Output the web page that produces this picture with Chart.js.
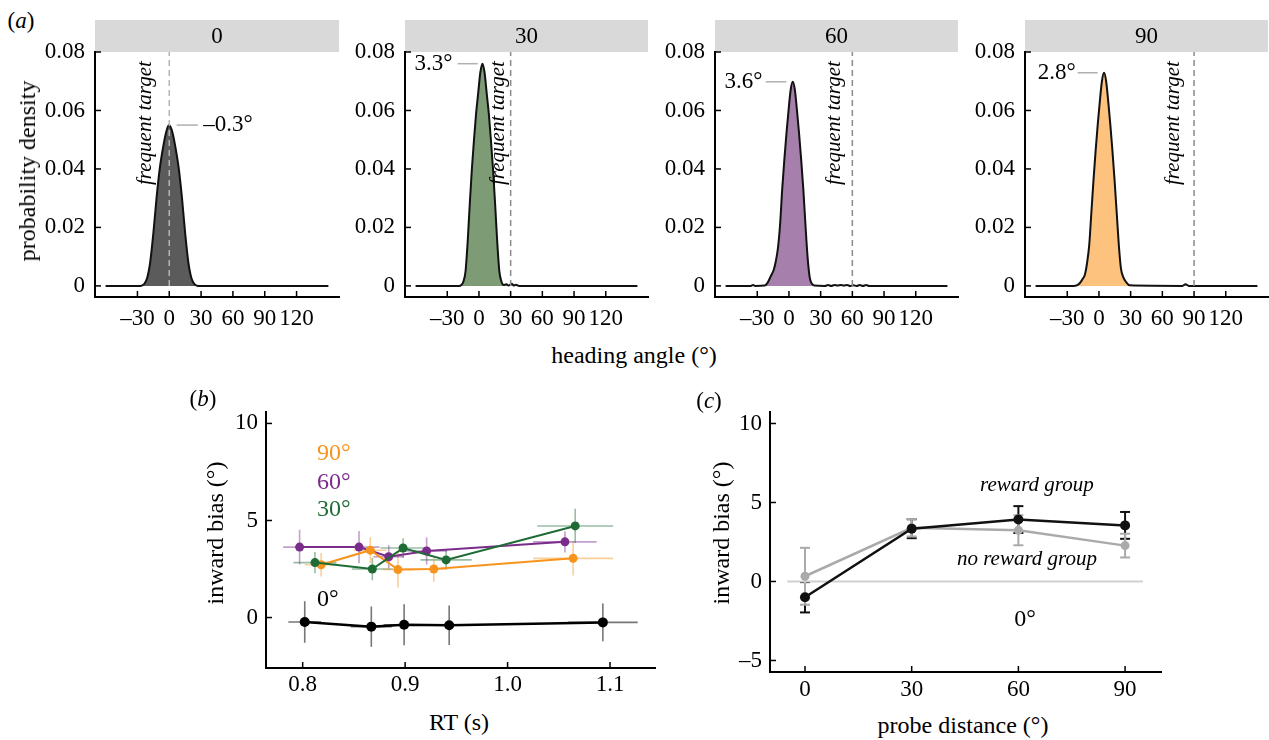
<!DOCTYPE html>
<html>
<head>
<meta charset="utf-8">
<script src="https://cdn.jsdelivr.net/npm/chart.js@4.4.0/dist/chart.umd.min.js"></script>
<style>
  body { margin: 0; background: #fff; width: 1269px; height: 740px; overflow: hidden; position: relative; font-family: 'Liberation Serif', 'Times New Roman', serif; }
  canvas { position: absolute; }
  .lbl { position: absolute; white-space: nowrap; line-height: 1; font-size: 24px; color: #000; transform: translate(-50%, -50%); }
  .rot { transform: translate(-50%, -50%) rotate(-90deg); }
</style>
</head>
<body>
<canvas id="a0"></canvas>
<canvas id="a30"></canvas>
<canvas id="a60"></canvas>
<canvas id="a90"></canvas>
<canvas id="b"></canvas>
<canvas id="c"></canvas>

<div class="lbl" style="left:21px;top:20px;font-size:23px">(<i>a</i>)</div>
<div class="lbl rot" style="left:27px;top:171px">probability density</div>
<div class="lbl" style="left:634px;top:355px">heading angle (°)</div>
<div class="lbl" style="left:203px;top:398px;font-size:23px">(<i>b</i>)</div>
<div class="lbl rot" style="left:215px;top:533px">inward bias (°)</div>
<div class="lbl" style="left:459px;top:722px">RT (s)</div>
<div class="lbl" style="left:709px;top:400px;font-size:23px">(<i>c</i>)</div>
<div class="lbl rot" style="left:721px;top:533px">inward bias (°)</div>
<div class="lbl" style="left:963px;top:725px">probe distance (°)</div>

<script>
const FONT = "'Liberation Serif', 'Times New Roman', serif";

// ---- (a) heading angle densities, one per probe distance
const probes = [0, 30, 60, 90];
const angleTicks = [-30, 0, 30, 60, 90, 120];
const densityTicks = [0, 0.02, 0.04, 0.06, 0.08];

const angle0 = [-60, -27, -24, -21, -18, -15, -12, -9, -6, -3, -0.3, 3, 6, 9, 12, 15, 18, 21, 24, 27, 150];
const dens0  = [0, 0, 0.0005, 0.0025, 0.008, 0.018, 0.03, 0.04, 0.047, 0.0525, 0.055, 0.0525, 0.047, 0.04, 0.03, 0.018, 0.008, 0.0025, 0.0005, 0, 0];

const angle30 = [-60, -19, -16.7, -14.7, -12.7, -10.7, -8.7, -6.7, -4.7, -2.7, -0.7, 1.3, 3.3, 5.3, 7.3, 9.3, 11.3, 13.3, 15.3, 17.3, 19.3, 21.3, 23.3, 26, 28, 31, 33, 35, 38, 150];
const dens30  = [0, 0, 0.0003, 0.0015, 0.005, 0.015, 0.028, 0.04, 0.05, 0.059, 0.066, 0.073, 0.076, 0.073, 0.066, 0.059, 0.05, 0.04, 0.028, 0.015, 0.005, 0.0015, 0.0003, 0.0006, 0.0001, 0.0007, 0.0001, 0.0004, 0, 0];

const angle60 = [-60, -36, -34, -32, -23, -20, -17, -14.4, -12.4, -10.4, -8.4, -6.4, -4.4, -2.4, -0.4, 1.6, 3.6, 5.6, 7.6, 9.6, 11.6, 13.6, 15.6, 17.6, 19.6, 21.6, 24, 34, 37, 40, 43, 46, 49, 52, 55, 58, 61, 64, 67, 70, 73, 76, 150];
const dens60  = [0, 0, 0.0003, 0, 0.0001, 0.0012, 0.0035, 0.0055, 0.0085, 0.013, 0.021, 0.033, 0.043, 0.052, 0.06, 0.067, 0.0698, 0.067, 0.06, 0.052, 0.043, 0.033, 0.021, 0.01, 0.003, 0.0008, 0.0001, 0, 0.0003, 0, 0.0003, 0.0001, 0.0003, 0.0001, 0.0003, 0, 0.0002, 0, 0.0003, 0, 0.0003, 0, 0];

const angle90 = [-60, -24, -21, -18, -15.2, -13.2, -11.2, -9.2, -7.2, -5.2, -3.2, -1.2, 0.8, 2.8, 4.8, 6.8, 8.8, 10.8, 12.8, 14.8, 16.8, 18.8, 20.8, 23, 26, 29, 79, 82, 85, 150];
const dens90  = [0, 0, 0.0002, 0.001, 0.0025, 0.004, 0.008, 0.014, 0.025, 0.036, 0.046, 0.055, 0.063, 0.07, 0.0729, 0.07, 0.063, 0.055, 0.046, 0.036, 0.025, 0.014, 0.006, 0.003, 0.0012, 0.0002, 0, 0.0006, 0, 0];

const peakLabels = ['\u20130.3°', '3.3°', '3.6°', '2.8°'];
const peakDens = [0.055, 0.076, 0.0698, 0.0729];

// ---- (b) inward bias against RT, per probe distance
const rtTicks = [0.8, 0.9, 1.0, 1.1];
const biasTicksB = [0, 5, 10];
const rt0 = [0.802, 0.867, 0.899, 0.943, 1.093];
const bias0 = [-0.23, -0.47, -0.37, -0.40, -0.25];
const rtErr0 = [0.016, 0.02, 0.02, 0.025, 0.034];
const biasErr0 = [1.07, 1.04, 1.06, 1.02, 0.97];
const rt90 = [0.818, 0.866, 0.893, 0.928, 1.064];
const bias90 = [2.72, 3.47, 2.47, 2.50, 3.05];
const rtErr90 = [0.016, 0.016, 0.015, 0.013, 0.039];
const biasErr90 = [0.6, 0.67, 0.92, 0.67, 0.88];
const rt60 = [0.797, 0.855, 0.884, 0.921, 1.056];
const bias60 = [3.63, 3.63, 3.13, 3.43, 3.9];
const rtErr60 = [0.016, 0.02, 0.015, 0.02, 0.031];
const biasErr60 = [0.89, 0.83, 0.6, 0.7, 0.55];
const rt30 = [0.812, 0.868, 0.898, 0.94, 1.066];
const bias30 = [2.83, 2.5, 3.58, 2.97, 4.72];
const rtErr30 = [0.021, 0.02, 0.022, 0.025, 0.037];
const biasErr30 = [0.55, 0.58, 0.5, 0.5, 0.88];

// ---- (c) inward bias against probe distance, by group
const probeDist = [0, 30, 60, 90];
const biasTicksC = [-5, 0, 5, 10];
const rewardBias = [-1.0, 3.34, 3.92, 3.55];
const rewardErr = [0.96, 0.6, 0.85, 0.85];
const noRewardBias = [0.33, 3.4, 3.24, 2.27];
const noRewardErr = [1.8, 0.55, 0.95, 0.75];
const zeroLine = [-5, 95];

function pts(xs, ys) { return xs.map((v, i) => ({ x: v, y: ys[i] })); }

function place(id, ca, yw, xh, padTop, padRight) {
  const cv = document.getElementById(id);
  const left = ca.l - yw, top = ca.t - padTop;
  cv.style.left = left + 'px';
  cv.style.top = top + 'px';
  cv.width = ca.r + padRight - left;
  cv.height = ca.b + xh - top;
  return cv;
}

function axis(min, max, ticks, fmt, size, pad) {
  return {
    type: 'linear', min: min, max: max,
    grid: { display: false, drawTicks: false },
    border: { display: true, color: '#000', width: 2 },
    ticks: { color: '#000', font: { family: FONT, size: 23 }, padding: pad, autoSkip: false, maxRotation: 0, callback: fmt },
    afterBuildTicks: s => { s.ticks = ticks.map(v => ({ value: v })); },
    afterFit: s => { if (s.isHorizontal()) s.height = size; else s.width = size; }
  };
}

function line(ctx, x1, y1, x2, y2) {
  ctx.beginPath(); ctx.moveTo(x1, y1); ctx.lineTo(x2, y2); ctx.stroke();
}

function drawNotes(chart, notes) {
  const { ctx, scales: { x, y } } = chart;
  notes.forEach(n => {
    ctx.save();
    ctx.font = (n.italic ? 'italic ' : '') + n.size + 'px ' + FONT;
    ctx.fillStyle = n.color || '#000';
    ctx.textAlign = n.align || 'left';
    ctx.textBaseline = 'middle';
    ctx.translate(x.getPixelForValue(n.x), y.getPixelForValue(n.y));
    if (n.rotate) ctx.rotate(n.rotate);
    ctx.fillText(n.text, 0, 0);
    ctx.restore();
  });
}

// inward tick marks
Chart.register({
  id: 'innerTicks',
  afterDatasetsDraw(chart) {
    const { ctx, chartArea: ca, scales: { x, y } } = chart;
    ctx.save();
    ctx.strokeStyle = '#000';
    ctx.lineWidth = 1.5;
    x.ticks.forEach(t => { const p = x.getPixelForValue(t.value); line(ctx, p, ca.bottom, p, ca.bottom - 6); });
    y.ticks.forEach(t => { const p = y.getPixelForValue(t.value); line(ctx, ca.left, p, ca.left + 6, p); });
    ctx.restore();
  }
});

// error bars from yErr / xErr on datasets
Chart.register({
  id: 'errorBars',
  beforeDatasetsDraw(chart) {
    const { ctx, scales: { x, y } } = chart;
    chart.data.datasets.forEach(ds => {
      if (!ds.yErr) return;
      ctx.save();
      ctx.strokeStyle = ds.errColor;
      ctx.lineWidth = ds.errWidth || 1.5;
      ds.data.forEach((p, i) => {
        const px = x.getPixelForValue(p.x), py = y.getPixelForValue(p.y);
        const y1 = y.getPixelForValue(p.y + ds.yErr[i]), y2 = y.getPixelForValue(p.y - ds.yErr[i]);
        line(ctx, px, y1, px, y2);
        if (ds.cap) {
          line(ctx, px - ds.cap, y1, px + ds.cap, y1);
          line(ctx, px - ds.cap, y2, px + ds.cap, y2);
        }
        if (ds.xErr) line(ctx, x.getPixelForValue(p.x - ds.xErr[i]), py, x.getPixelForValue(p.x + ds.xErr[i]), py);
      });
      ctx.restore();
    });
  }
});

const base = {
  responsive: false,
  animation: false,
  plugins: { legend: { display: false }, tooltip: { enabled: false } }
};

// ---------- panel (a)
const panelsA = [
  { id: 'a0',  ca: { l: 95, t: 52, r: 339, b: 297 },  xs: angle0,  ys: dens0,  fill: '#5b5b5b', dash: '#b4b4b4',
    lead: [7, 27], text: 32, align: 'left', ft: -22.7 },
  { id: 'a30', ca: { l: 405, t: 52, r: 648, b: 297 }, xs: angle30, ys: dens30, fill: '#7d9c75', dash: '#8a8a8a',
    lead: [-20.2, -1.2], text: -25, align: 'right', ft: 18.6 },
  { id: 'a60', ca: { l: 715, t: 52, r: 958, b: 297 }, xs: angle60, ys: dens60, fill: '#a67fad', dash: '#8a8a8a',
    lead: [-22, -2.5], text: -25, align: 'right', ft: 43.3 },
  { id: 'a90', ca: { l: 1025, t: 52, r: 1268, b: 297 }, xs: angle90, ys: dens90, fill: '#fcc27e', dash: '#8a8a8a',
    lead: [-20.2, -1.2], text: -22, align: 'right', ft: 70.7 }
];

panelsA.forEach((p, k) => {
  const cv = place(p.id, p.ca, 60, 40, 32, 1);
  new Chart(cv, {
    type: 'line',
    data: { datasets: [{
      data: pts(p.xs, p.ys),
      borderColor: '#111', borderWidth: 2, backgroundColor: p.fill, fill: 'origin',
      pointRadius: 0, cubicInterpolationMode: 'monotone'
    }] },
    options: Object.assign({}, base, {
      layout: { padding: { top: 32, right: 1, left: 0, bottom: 0 } },
      scales: {
        x: axis(-70, 160, angleTicks, v => v < 0 ? '\u2013' + Math.abs(v) : String(v), 40, 8),
        y: axis(-0.0038, 0.08, densityTicks, v => v === 0 ? '0' : v.toFixed(2), 60, 10)
      }
    }),
    plugins: [{
      id: 'stripAndNotes',
      beforeDraw(chart) {
        const { ctx, chartArea: ca } = chart;
        ctx.save();
        ctx.fillStyle = '#d9d9d9';
        ctx.fillRect(ca.left, 0, ca.right - ca.left, ca.top);
        ctx.fillStyle = '#000';
        ctx.font = '23px ' + FONT;
        ctx.textAlign = 'center';
        ctx.textBaseline = 'middle';
        ctx.fillText(String(probes[k]), (ca.left + ca.right) / 2, ca.top / 2 + 1);
        ctx.restore();
      },
      afterDatasetsDraw(chart) {
        const { ctx, scales: { x, y } } = chart;
        ctx.save();
        // frequent target marker
        ctx.strokeStyle = p.dash;
        ctx.lineWidth = 1.5;
        ctx.setLineDash([6, 4]);
        const tx = x.getPixelForValue(probes[k]);
        line(ctx, tx, y.getPixelForValue(0), tx, y.getPixelForValue(0.08));
        ctx.setLineDash([]);
        // peak leader line
        ctx.strokeStyle = '#b0b0b0';
        const py = y.getPixelForValue(peakDens[k]);
        line(ctx, x.getPixelForValue(p.lead[0]), py, x.getPixelForValue(p.lead[1]), py);
        ctx.restore();
        drawNotes(chart, [
          { x: p.text, y: peakDens[k], text: peakLabels[k], size: 23, align: p.align },
          { x: p.ft, y: 0.0557, text: 'frequent target', size: 21, italic: true, align: 'center', rotate: -Math.PI / 2 }
        ]);
      }
    }]
  });
});

// ---------- panel (b)
const cvB = place('b', { l: 266, t: 404, r: 655, b: 668 }, 50, 35, 14, 5);
function seriesB(xs, ys, xe, ye, colour, err, width, radius) {
  return {
    data: pts(xs, ys), xErr: xe, yErr: ye, errColor: err, errWidth: 1.6,
    borderColor: colour, backgroundColor: colour, borderWidth: width,
    pointRadius: radius, pointBorderWidth: 0, showLine: true
  };
}
new Chart(cvB, {
  type: 'scatter',
  data: { datasets: [
    seriesB(rt0, bias0, rtErr0, biasErr0, '#000000', 'rgba(60,60,60,0.7)', 2.5, 5),
    seriesB(rt30, bias30, rtErr30, biasErr30, '#1e6b35', 'rgba(30,107,53,0.45)', 2, 4.5),
    seriesB(rt90, bias90, rtErr90, biasErr90, '#f7941d', 'rgba(247,148,29,0.45)', 2, 4.5),
    seriesB(rt60, bias60, rtErr60, biasErr60, '#7b2c8b', 'rgba(123,44,139,0.45)', 2, 4.5)
  ] },
  options: Object.assign({}, base, {
    layout: { padding: { top: 14, right: 5, left: 0, bottom: 0 } },
    scales: {
      x: axis(0.7642, 1.1439, rtTicks, v => v.toFixed(1), 35, 3),
      y: axis(-2.6, 10.6, biasTicksB, v => String(v), 50, 8)
    }
  }),
  plugins: [{
    id: 'notesB',
    afterDatasetsDraw(chart) {
      drawNotes(chart, [
        { x: 0.814, y: 8.45, text: '90°', size: 24, color: '#f7941d' },
        { x: 0.814, y: 6.97, text: '60°', size: 24, color: '#7b2c8b' },
        { x: 0.814, y: 5.55, text: '30°', size: 24, color: '#1e6b35' },
        { x: 0.814, y: 0.9, text: '0°', size: 24, color: '#000' }
      ]);
    }
  }]
});

// ---------- panel (c)
const cvC = place('c', { l: 770, t: 404, r: 1161, b: 672 }, 55, 35, 14, 5);
new Chart(cvC, {
  type: 'scatter',
  data: { datasets: [
    { data: pts(probeDist, rewardBias), yErr: rewardErr, errColor: '#111', errWidth: 2, cap: 5,
      borderColor: '#111', backgroundColor: '#111', borderWidth: 2.5, pointRadius: 5, pointBorderWidth: 0, showLine: true },
    { data: pts(probeDist, noRewardBias), yErr: noRewardErr, errColor: '#aaaaaa', errWidth: 2, cap: 5,
      borderColor: '#aaaaaa', backgroundColor: '#aaaaaa', borderWidth: 2.5, pointRadius: 4.5, pointBorderWidth: 0, showLine: true },
    { data: pts(zeroLine, [0, 0]), borderColor: '#d0d0d0', borderWidth: 2, pointRadius: 0, showLine: true }
  ] },
  options: Object.assign({}, base, {
    layout: { padding: { top: 14, right: 5, left: 0, bottom: 0 } },
    scales: {
      x: axis(-9.84, 100.1, probeDist, v => String(v), 35, 4),
      y: axis(-5.73, 10.74, biasTicksC, v => v < 0 ? '\u2013' + Math.abs(v) : String(v), 55, 8)
    }
  }),
  plugins: [{
    id: 'notesC',
    afterDatasetsDraw(chart) {
      drawNotes(chart, [
        { x: 65.2, y: 6.07, text: 'reward group', size: 21, italic: true, align: 'center' },
        { x: 62.4, y: 1.4, text: 'no reward group', size: 21, italic: true, align: 'center' },
        { x: 61.9, y: -2.42, text: '0°', size: 24, align: 'center' }
      ]);
    }
  }]
});
</script>
</body>
</html>
